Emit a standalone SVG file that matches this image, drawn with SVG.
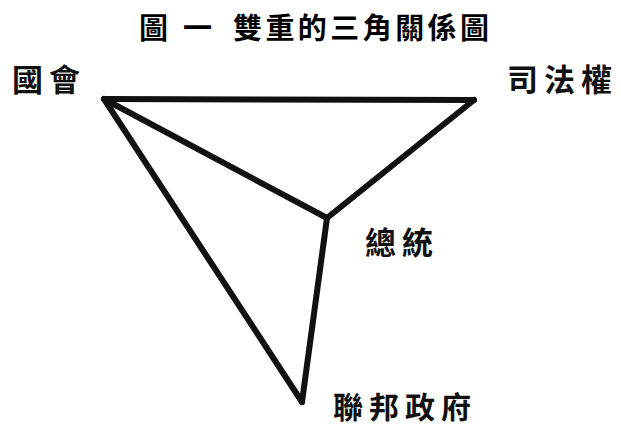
<svg xmlns="http://www.w3.org/2000/svg" width="621" height="428" viewBox="0 0 621 428">
<style>
.lbl{font-family:"Noto Sans CJK TC","Noto Sans CJK SC",sans-serif;font-weight:700;font-size:31px;fill:#111;letter-spacing:6px}
.ttl{font-family:"Noto Sans CJK TC","Noto Sans CJK SC",sans-serif;font-weight:700;font-size:29px;fill:#000}
.edge{stroke:#111;stroke-width:6;fill:none;stroke-linecap:round;stroke-linejoin:round}
</style>
<rect width="621" height="428" fill="#fff"/>
<text class="ttl" x="139" y="39">圖</text>
<text class="ttl" x="183" y="39">一</text>
<text class="ttl" x="233" y="39" textLength="256" lengthAdjust="spacing">雙重的三角關係圖</text>
<g id="connectors">
<line class="edge" x1="104" y1="99" x2="474" y2="100"/>
<line class="edge" x1="474" y1="100" x2="327" y2="218"/>
<line class="edge" x1="104" y1="99" x2="327" y2="218"/>
<line class="edge" x1="327" y1="218" x2="302" y2="402"/>
<line class="edge" x1="104" y1="99" x2="302" y2="402"/>
</g>
<g id="congress"><text class="lbl" x="12" y="91">國會</text></g>
<g id="judiciary"><text class="lbl" x="507" y="91">司法權</text></g>
<g id="president"><text class="lbl" x="365" y="254">總統</text></g>
<g id="federal"><text class="lbl" x="333" y="418" style="font-size:30px">聯邦政府</text></g>
</svg>
